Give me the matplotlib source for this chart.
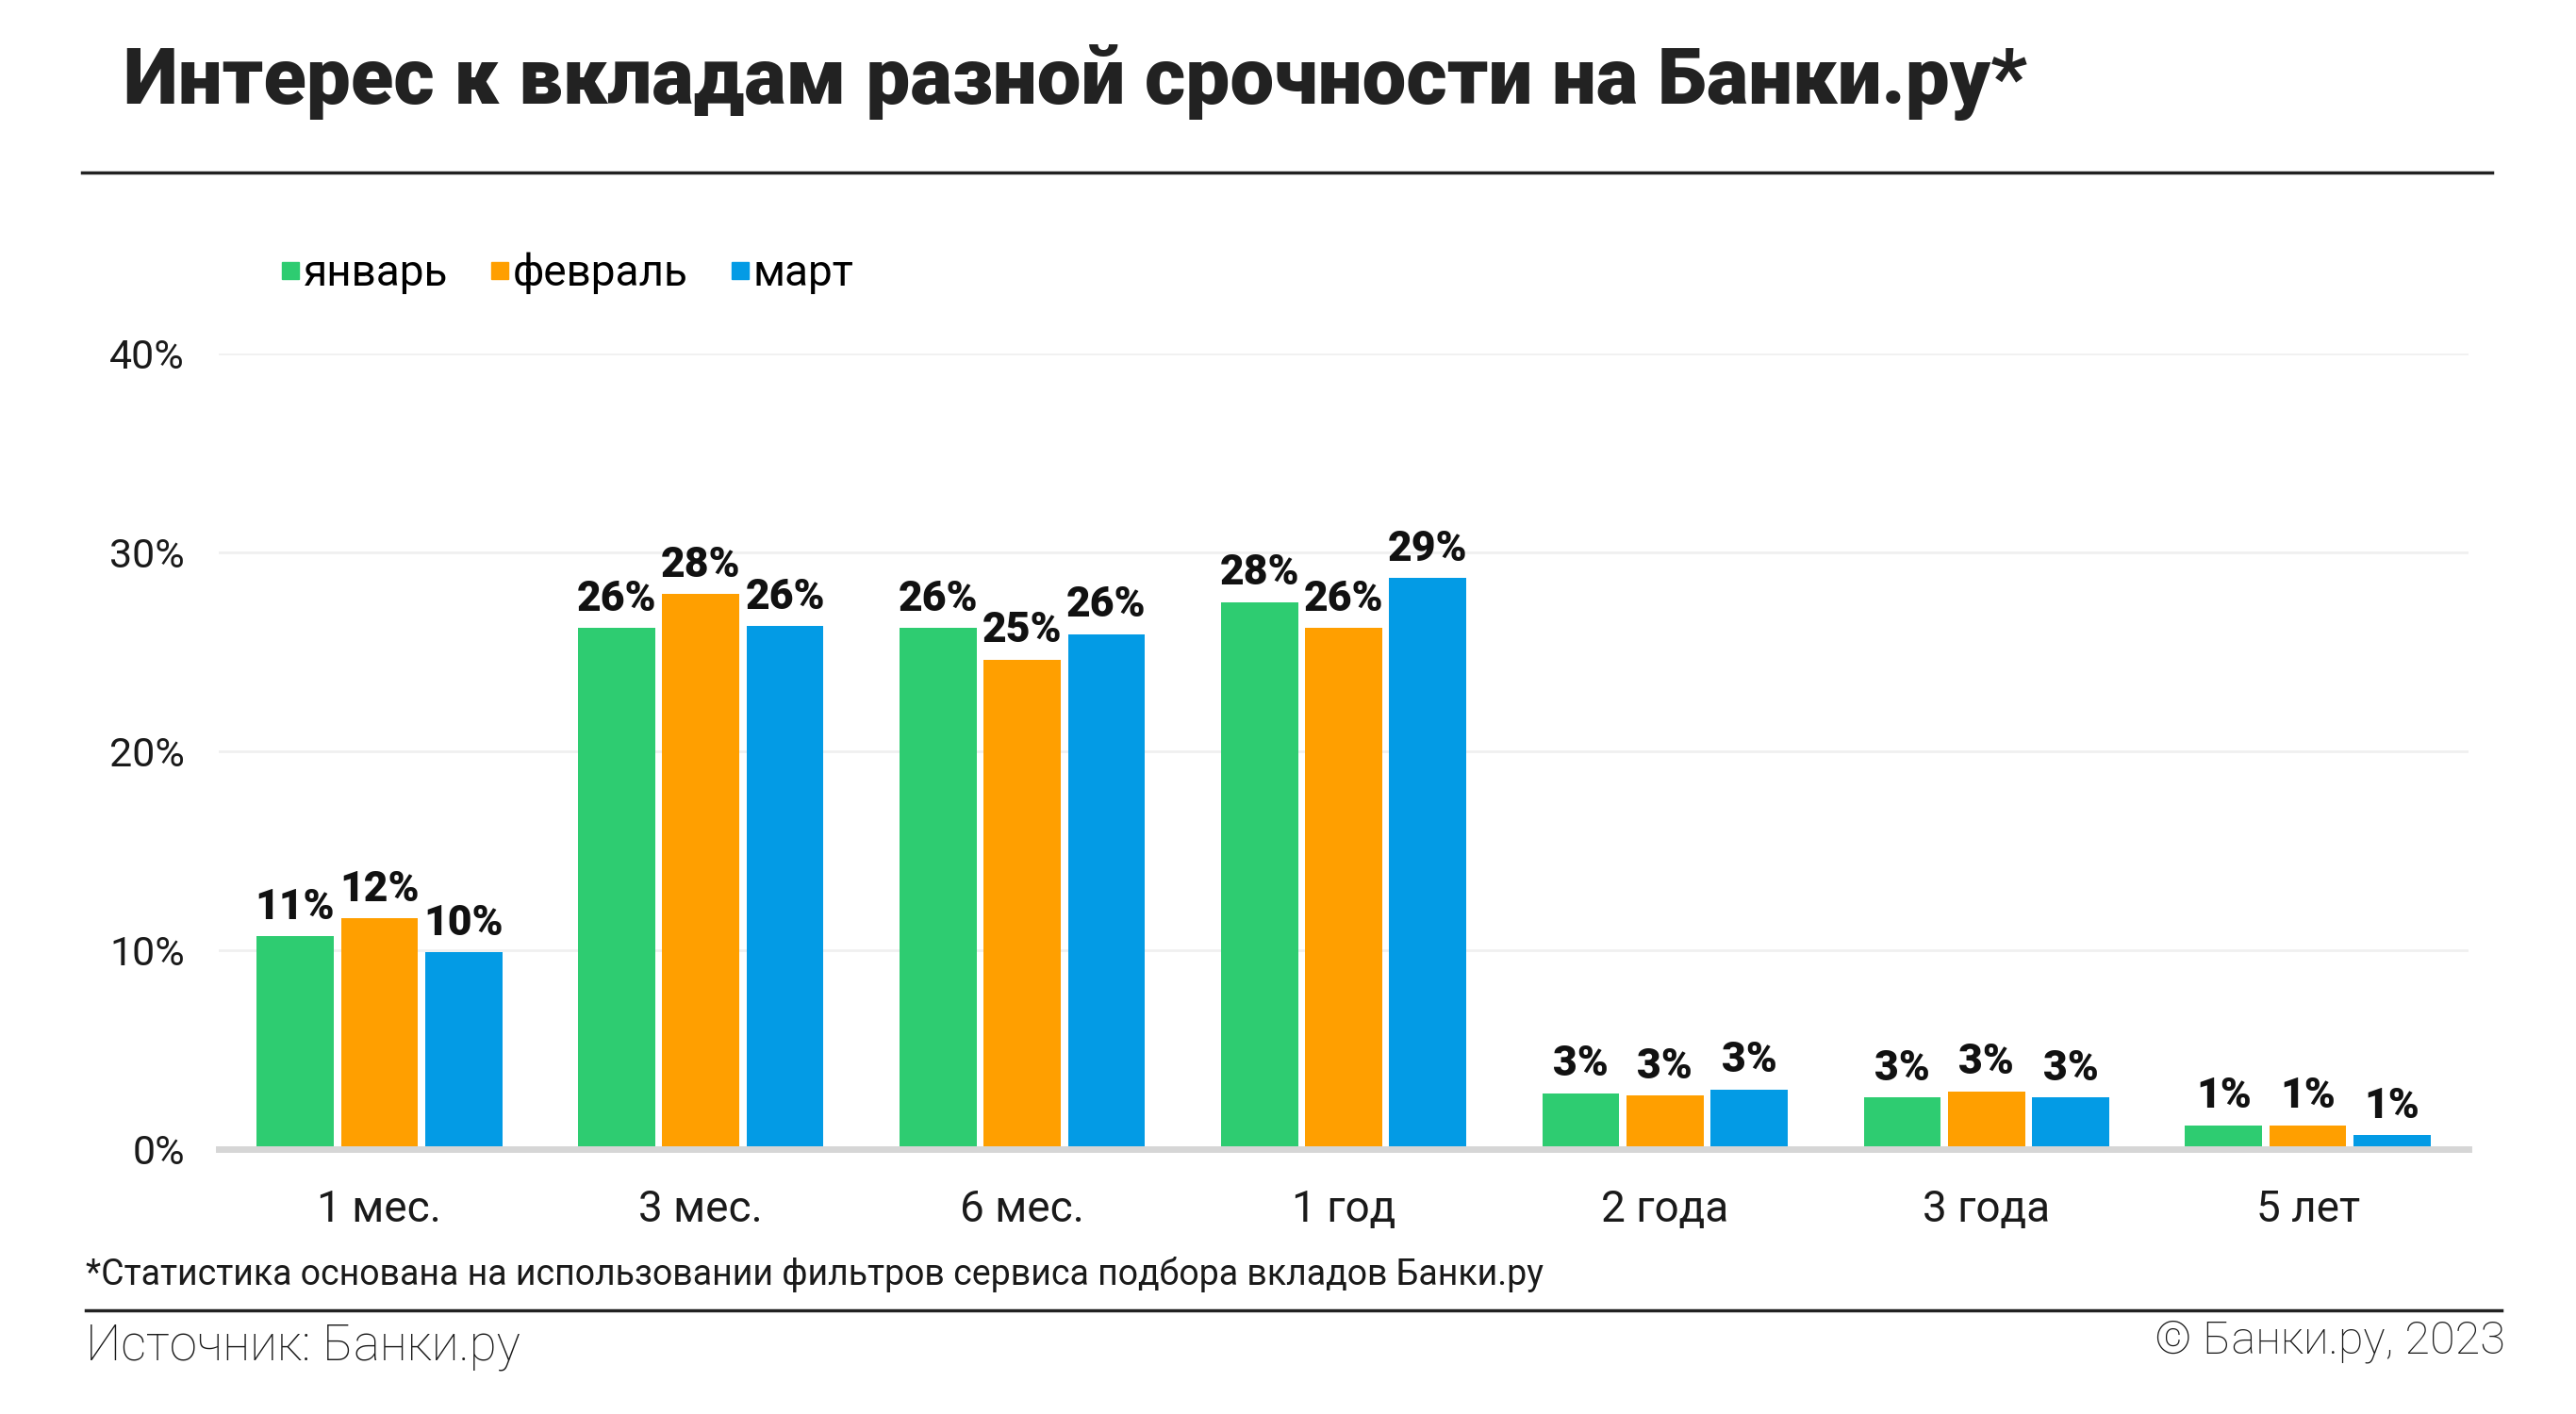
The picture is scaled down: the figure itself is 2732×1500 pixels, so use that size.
import numpy as np
import matplotlib.pyplot as plt
from matplotlib.lines import Line2D

plt.rcParams['font.family'] = ['Roboto', 'DejaVu Sans']

# данные
srok = ['1 мес.', '3 мес.', '6 мес.', '1 год', '2 года', '3 года', '5 лет']
mesyacy = ['январь', 'февраль', 'март']
yanvar = [10.7, 26.2, 26.2, 27.5, 2.8, 2.6, 1.2]
fevral = [11.6, 27.9, 24.6, 26.2, 2.7, 2.9, 1.2]
mart = [9.9, 26.3, 25.9, 28.7, 3.0, 2.6, 0.7]
yticks = [0, 10, 20, 30, 40]

colors = ['#2ecc71', '#ff9f00', '#039be5']
W, H = 2732, 1500

fig = plt.figure(figsize=(W / 100, H / 100), dpi=100)
ax = fig.add_axes([232 / W, 1 - 1219 / H, (2618 - 232) / W, (1219 - 375) / H])

x = np.arange(len(srok))
step = 0.262
bw = 0.24
for i, (vals, c) in enumerate(zip([yanvar, fevral, mart], colors)):
    ax.bar(x + (i - 1) * step, vals, width=bw, color=c, zorder=3)
    for xi, v in zip(x + (i - 1) * step, vals):
        ax.text(xi, v + 0.45, f'{round(v)}%', ha='center', va='bottom',
                fontsize=32, fontweight='black', color='#111111', zorder=4)

ax.set_xlim(-0.5, len(srok) - 0.5)
ax.set_ylim(0, 40)
ax.set_yticks(yticks)
ax.set_yticklabels([f'{t}%' for t in yticks])
ax.set_xticks(x)
ax.set_xticklabels(srok)
ax.tick_params(axis='y', length=0, pad=26, labelsize=31, labelcolor='#1a1a1a')
ax.tick_params(axis='x', length=0, pad=30, labelsize=33, labelcolor='#1a1a1a')
ax.grid(axis='y', color='#f0f0f0', linewidth=2, zorder=0)
for s in ['top', 'right', 'left']:
    ax.spines[s].set_visible(False)
ax.spines['bottom'].set_color('#d6d6d6')
ax.spines['bottom'].set_linewidth(5)
ax.spines['bottom'].set_zorder(5)

# легенда
handles = [Line2D([], [], marker='s', linestyle='none', markersize=13,
                  markerfacecolor=c, markeredgecolor=c) for c in colors]
fig.legend(handles, mesyacy, loc='center left', bbox_to_anchor=(276 / W, 1 - 290 / H),
           ncol=3, frameon=False, fontsize=33, handletextpad=0.0, columnspacing=0.9,
           handlelength=0.6, borderaxespad=0)

# заголовок и линии
fig.text(131 / W, 1 - 87 / H, 'Интерес к вкладам разной срочности на Банки.ру*',
         fontsize=60, fontweight='black', color='#222222', va='center', ha='left')
fig.add_artist(Line2D([87 / W, 2643 / W], [1 - 183 / H, 1 - 183 / H], color='#222222', linewidth=2.5))
fig.add_artist(Line2D([91 / W, 2653 / W], [1 - 1390 / H, 1 - 1390 / H], color='#222222', linewidth=2.5))

fig.text(91 / W, 1 - 1352 / H, '*Статистика основана на использовании фильтров сервиса подбора вкладов Банки.ру',
         fontsize=27, color='#1a1a1a', va='center', ha='left')
fig.text(91 / W, 1 - 1428 / H, 'Источник: Банки.ру', fontsize=38, fontweight='light',
         color='#1a1a1a', va='center', ha='left')
fig.text(2657 / W, 1 - 1423 / H, '© Банки.ру, 2023', fontsize=35, fontweight='light',
         color='#1a1a1a', va='center', ha='right')

fig.savefig('out.png', dpi=100, facecolor='white')
